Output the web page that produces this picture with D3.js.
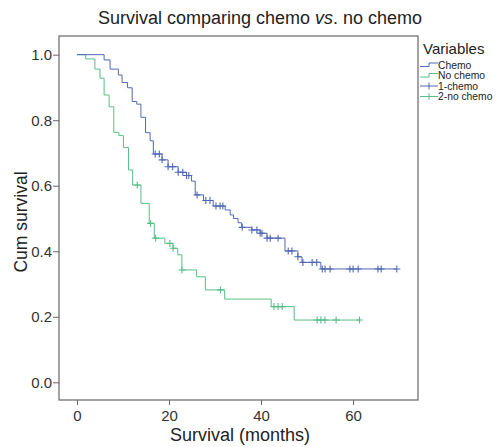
<!DOCTYPE html>
<html>
<head>
<meta charset="utf-8">
<script src="https://cdn.jsdelivr.net/npm/d3@7"></script>
<style>
  body { margin: 0; background: #fff; }
  svg { font-family: "Liberation Sans", Arial, sans-serif; }
</style>
</head>
<body>
<div id="chart"></div>
<script>
// Kaplan-Meier steps (time in months, cumulative survival)
var chemoTimes = [5.9, 7.2, 9.0, 9.8, 11.0, 12.0, 13.0, 13.9, 14.9, 15.9, 16.6, 18.5, 19.8, 22.0, 23.8, 24.9, 25.7, 27.5, 29.6, 32.2, 33.3, 34.0, 35.0, 35.8, 38.0, 39.8, 41.3, 45.2, 48.0, 48.9, 53.0];
var chemoSurv = [0.984, 0.956, 0.938, 0.915, 0.899, 0.857, 0.849, 0.809, 0.762, 0.737, 0.697, 0.679, 0.658, 0.641, 0.631, 0.614, 0.572, 0.555, 0.538, 0.526, 0.511, 0.500, 0.487, 0.473, 0.465, 0.455, 0.440, 0.401, 0.383, 0.366, 0.346];
var chemoCensor = [17.0, 17.9, 18.5, 19.8, 20.8, 22.0, 23.0, 23.8, 24.3, 26.1, 28.0, 28.9, 30.2, 31.1, 31.7, 35.9, 38.0, 39.1, 39.8, 40.2, 41.3, 42.0, 43.7, 45.9, 46.7, 48.0, 49.1, 51.1, 52.1, 53.3, 53.9, 55.0, 59.3, 60.0, 61.1, 65.4, 66.1, 69.5];

var noChemoTimes = [1.9, 3.9, 5.0, 5.9, 7.0, 8.0, 9.1, 10.1, 11.2, 12.1, 13.9, 15.7, 16.8, 19.1, 20.9, 21.9, 22.8, 26.0, 27.9, 32.1, 42.2, 47.2];
var noChemoSurv = [0.987, 0.956, 0.928, 0.877, 0.841, 0.763, 0.753, 0.717, 0.648, 0.602, 0.546, 0.485, 0.440, 0.424, 0.409, 0.389, 0.343, 0.322, 0.282, 0.254, 0.231, 0.190];
var noChemoCensor = [13.1, 16.0, 17.1, 20.2, 20.9, 22.8, 31.2, 42.8, 43.7, 44.6, 52.2, 53.0, 53.9, 56.3, 61.4];

var xTicks = [0, 20, 40, 60];
var yTicks = [0.0, 0.2, 0.4, 0.6, 0.8, 1.0];
var legendLabels = ["Chemo", "No chemo", "1-chemo", "2-no chemo"];

var blue = "#5068b4", green = "#58be86", axisColor = "#666";

var W = 496, H = 447;
var plot = {left: 59, right: 418, top: 36, bottom: 400};

var svg = d3.select("#chart").append("svg")
    .attr("width", W)
    .attr("height", H);

var x = d3.scaleLinear().domain([-3.9, 74.1]).range([plot.left, plot.right]);
var y = d3.scaleLinear().domain([-0.054, 1.057]).range([plot.bottom, plot.top]);

//title
var title = svg.append("text")
    .attr("x", 260)
    .attr("y", 24)
    .attr("text-anchor", "middle")
    .attr("font-size", 18)
    .attr("fill", "#222");
title.append("tspan").text("Survival comparing chemo ");
title.append("tspan").attr("font-style", "italic").text("vs");
title.append("tspan").text(". no chemo");

//frame
svg.append("rect")
    .attr("x", plot.left)
    .attr("y", plot.top)
    .attr("width", plot.right - plot.left)
    .attr("height", plot.bottom - plot.top)
    .attr("fill", "none")
    .attr("stroke", axisColor)
    .attr("stroke-width", 1.2);

//axes
var xAxis = svg.append("g")
    .attr("transform", "translate(0," + plot.bottom + ")")
    .call(d3.axisBottom(x).tickValues(xTicks).tickSize(5).tickSizeOuter(0).tickPadding(5));
var yAxis = svg.append("g")
    .attr("transform", "translate(" + plot.left + ",0)")
    .call(d3.axisLeft(y).tickValues(yTicks).tickFormat(d3.format(".1f")).tickSize(6).tickSizeOuter(0).tickPadding(1));

[xAxis, yAxis].forEach(function(g) {
    g.select(".domain").remove();
    g.selectAll("line").attr("stroke", axisColor);
    g.selectAll("text")
     .attr("font-size", 15)
     .attr("fill", "#333")
     .attr("font-family", "Liberation Sans, Arial, sans-serif");
});

svg.append("text")
    .attr("x", 240)
    .attr("y", 441)
    .attr("text-anchor", "middle")
    .attr("font-size", 18)
    .attr("fill", "#222")
    .text("Survival (months)");

svg.append("text")
    .attr("transform", "translate(27,222) rotate(-90)")
    .attr("text-anchor", "middle")
    .attr("font-size", 17.5)
    .attr("fill", "#222")
    .text("Cum survival");

//curves
function survAt(times, surv, t) {
    var s = 1;
    for (var i = 0; i < times.length; i++) {
        if (times[i] <= t) s = surv[i];
    }
    return s;
}

function drawCurve(times, surv, censor, color) {
    var end = d3.max(censor.concat(times));
    var pts = [[0, 1]];
    times.forEach(function(t, i) { pts.push([t, surv[i]]); });
    pts.push([end, survAt(times, surv, end)]);

    var line = d3.line()
        .x(function(d) { return x(d[0]); })
        .y(function(d) { return y(d[1]); })
        .curve(d3.curveStepAfter);

    svg.append("path")
        .datum(pts)
        .attr("d", line)
        .attr("fill", "none")
        .attr("stroke", color)
        .attr("stroke-width", 1);

    svg.append("g")
        .selectAll("path")
        .data(censor)
        .enter().append("path")
        .attr("d", function(t) {
            var cx = x(t), cy = y(survAt(times, surv, t));
            return "M" + (cx - 3.5) + "," + cy + "H" + (cx + 3.5) +
                   "M" + cx + "," + (cy - 3.5) + "V" + (cy + 3.5);
        })
        .attr("stroke", color)
        .attr("stroke-width", 1.1)
        .attr("fill", "none");
}

drawCurve(noChemoTimes, noChemoSurv, noChemoCensor, green);
drawCurve(chemoTimes, chemoSurv, chemoCensor, blue);

//legend
var lg = svg.append("g").attr("transform", "translate(420,0)");
lg.append("text")
    .attr("x", 3)
    .attr("y", 53.5)
    .attr("font-size", 15)
    .attr("fill", "#222")
    .text("Variables");

var rowY = [65, 75.5, 86, 96.5];
var colors = [blue, green, blue, green];
legendLabels.forEach(function(lab, i) {
    var cy = rowY[i];
    var c = colors[i];
    if (i < 2) {
        lg.append("path")
          .attr("d", "M0," + (cy + 1.5) + "H9V" + (cy - 2) + "H18")
          .attr("stroke", c).attr("fill", "none").attr("stroke-width", 1);
    } else {
        lg.append("path")
          .attr("d", "M0," + cy + "H18M9," + (cy - 3.5) + "V" + (cy + 3.5))
          .attr("stroke", c).attr("fill", "none").attr("stroke-width", 1);
    }
    lg.append("text")
      .attr("x", 18)
      .attr("y", cy + 3.7)
      .attr("font-size", 10.3)
      .attr("fill", "#222")
      .text(lab);
});
</script>
</body>
</html>
